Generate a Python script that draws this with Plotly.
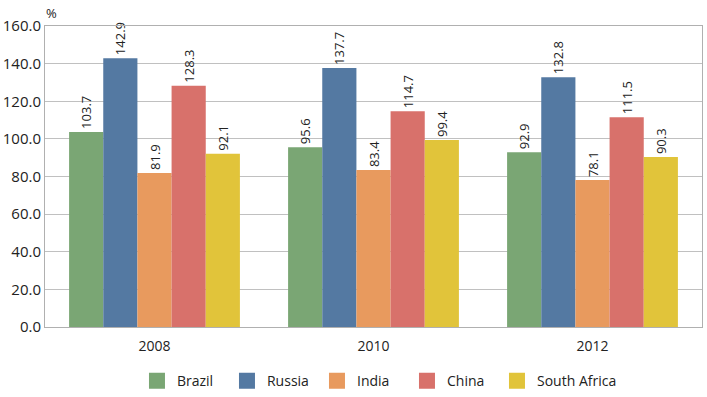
import plotly.graph_objects as go

years = ["2008", "2010", "2012"]
brazil = [103.7, 95.6, 92.9]
russia = [142.9, 137.7, 132.8]
india = [81.9, 83.4, 78.1]
china = [128.3, 114.7, 111.5]
south_africa = [92.1, 99.4, 90.3]

series = [
    ("Brazil", brazil, "#7aa674"),
    ("Russia", russia, "#5479a2"),
    ("India", india, "#e89a5e"),
    ("China", china, "#d8716b"),
    ("South Africa", south_africa, "#e1c43a"),
]

fig = go.Figure()
for name, vals, col in series:
    fig.add_trace(go.Bar(
        x=years, y=vals, name=name, showlegend=False,
        marker=dict(color=col, line=dict(width=0)),
        text=[f"{v:.1f}" for v in vals],
        textposition="outside", textangle=-90,
        textfont=dict(size=13, color="#222222", family="Open Sans"),
        cliponaxis=False,
    ))
for name, vals, col in series:
    fig.add_trace(go.Scatter(
        x=[None], y=[None], name=name, mode="markers",
        marker=dict(symbol="square", size=17, color=col),
        showlegend=True,
    ))
# spacer entry so the last legend label is not clipped
fig.add_trace(go.Scatter(
    x=[None], y=[None], name=" ", mode="markers",
    marker=dict(symbol="square", size=17, color="rgba(0,0,0,0)"),
    showlegend=True, hoverinfo="skip",
))

fig.update_layout(
    width=707, height=397,
    margin=dict(l=45, r=5, t=26, b=70, autoexpand=False),
    paper_bgcolor="white", plot_bgcolor="white",
    barmode="group", bargap=0.22, bargroupgap=0,
    font=dict(family="Open Sans", size=13, color="#222222"),
    legend=dict(orientation="h", x=0.14, xanchor="left", y=-0.18, yanchor="middle",
                font=dict(size=14), itemwidth=30, traceorder="normal",
                entrywidth=45, entrywidthmode="pixels", tracegroupgap=0),
    showlegend=True,
)
fig.update_yaxes(range=[0, 160], dtick=20, tickformat=".1f",
                 showgrid=True, gridcolor="#c0c0c0", gridwidth=1,
                 showline=True, linecolor="#b0b0b0", mirror=True,
                 ticks="", zeroline=False, tickfont=dict(size=15),
                 automargin=False)
fig.update_xaxes(showline=True, linecolor="#b0b0b0", mirror=True, ticks="",
                 tickfont=dict(size=14), automargin=False, ticklabelstandoff=6)
fig.add_annotation(text="%", x=0, xref="paper", y=1, yref="paper",
                   xanchor="left", yanchor="bottom", yshift=2, xshift=-1,
                   showarrow=False, font=dict(size=13))

fig.write_html("out.html", config={"displayModeBar": False},
               post_script="document.body.style.margin='0';document.body.style.overflow='hidden';")
